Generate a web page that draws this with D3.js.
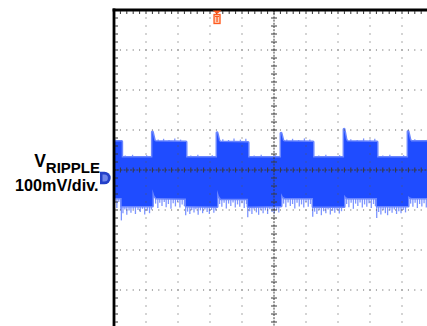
<!DOCTYPE html>
<html>
<head>
<meta charset="utf-8">
<script src="https://cdn.jsdelivr.net/npm/d3@7"></script>
<style>
  html, body { margin: 0; padding: 0; background: #fff; overflow: hidden; }
  svg { display: block; }
</style>
</head>
<body>
<svg id="scope" width="427" height="326"></svg>
<script>
// Ripple capture, 100 mV/div. Time is in screen divisions (0 = centre graticule).

// Solid core of the trace: upper and lower limits [t (div), mV], left to right.
const coreTop = [
  [-5, 71], [-4.76, 71], [-4.76, 31],
  [-3.80, 31], [-3.80, 95], [-3.74, 74], [-3.70, 71], [-2.75, 70], [-2.75, 31],
  [-1.78, 31], [-1.78, 93], [-1.72, 73], [-1.68, 70], [-0.81, 69], [-0.81, 31],
  [0.22, 31], [0.22, 92], [0.28, 73], [0.32, 71], [1.22, 70], [1.22, 31],
  [2.19, 31], [2.19, 102], [2.25, 76], [2.29, 71], [3.22, 70], [3.22, 31],
  [4.19, 31], [4.19, 96], [4.25, 75], [4.29, 71], [5, 71]
];
const coreBottom = [
  [-5, -70], [-4.76, -70], [-4.76, -90],
  [-3.80, -90], [-3.80, -48], [-3.74, -64], [-3.68, -70], [-2.75, -71], [-2.75, -90],
  [-1.78, -91], [-1.78, -50], [-1.72, -65], [-1.66, -72], [-0.81, -72], [-0.81, -91],
  [0.22, -90], [0.22, -58], [0.28, -67], [0.34, -70], [1.22, -70], [1.22, -91],
  [2.19, -91], [2.19, -62], [2.25, -68], [2.31, -70], [3.22, -70], [3.22, -90],
  [4.19, -90], [4.19, -65], [4.25, -69], [4.31, -70], [5, -70]
];

// Noise excursions outside the core [t (div), mV].
const spikesTop = [
  [-4.95, 76], [-4.85, 74],
  [-4.65, 36], [-4.42, 38], [-4.20, 35], [-3.98, 37],
  [-3.62, 76], [-3.45, 78], [-3.28, 75], [-3.10, 79], [-2.92, 76],
  [-2.60, 36], [-2.38, 38], [-2.15, 35], [-1.93, 37],
  [-1.60, 77], [-1.42, 75], [-1.25, 79], [-1.05, 76], [-0.88, 78],
  [-0.62, 36], [-0.40, 38], [-0.18, 35], [0.05, 37],
  [0.40, 76], [0.58, 78], [0.77, 75], [0.95, 79], [1.12, 76],
  [1.40, 36], [1.62, 38], [1.85, 35], [2.05, 37],
  [2.40, 77], [2.60, 75], [2.80, 79], [3.00, 76], [3.15, 78],
  [3.40, 36], [3.62, 38], [3.85, 35], [4.05, 37],
  [4.40, 77], [4.60, 75], [4.80, 78]
];
const spikesBottom = [
  [-4.97, -82], [-4.91, -95], [-4.85, -80], [-4.79, -100], [-4.77, -126],
  [-4.72, -108], [-4.66, -99], [-4.60, -112], [-4.53, -101], [-4.47, -107], [-4.40, -98], [-4.33, -110],
  [-4.25, -100], [-4.18, -105], [-4.11, -97], [-4.04, -111], [-3.96, -102], [-3.89, -108], [-3.83, -99],
  [-3.70, -84], [-3.63, -95], [-3.57, -82], [-3.50, -90], [-3.43, -80], [-3.37, -93], [-3.30, -85],
  [-3.22, -97], [-3.15, -83], [-3.08, -91], [-3.01, -80], [-2.94, -94], [-2.87, -86], [-2.80, -90], [-2.76, -113],
  [-2.70, -104], [-2.63, -110], [-2.57, -100], [-2.50, -106], [-2.44, -98], [-2.37, -112], [-2.30, -101],
  [-2.23, -108], [-2.16, -99], [-2.09, -105], [-2.02, -110], [-1.95, -100], [-1.88, -107], [-1.82, -101],
  [-1.70, -85], [-1.63, -92], [-1.56, -82], [-1.49, -96], [-1.42, -84], [-1.35, -90], [-1.28, -81],
  [-1.21, -94], [-1.14, -86], [-1.07, -92], [-1.00, -83], [-0.93, -95], [-0.86, -85], [-0.82, -118],
  [-0.76, -103], [-0.69, -110], [-0.62, -99], [-0.55, -106], [-0.48, -112], [-0.41, -100], [-0.34, -108],
  [-0.27, -101], [-0.20, -110], [-0.13, -98], [-0.06, -105], [0.01, -109], [0.08, -100], [0.15, -106],
  [0.30, -84], [0.37, -93], [0.44, -81], [0.51, -90], [0.58, -85], [0.65, -96], [0.72, -82],
  [0.79, -91], [0.86, -86], [0.93, -94], [1.00, -80], [1.07, -92], [1.14, -85], [1.21, -117],
  [1.27, -104], [1.34, -110], [1.41, -100], [1.48, -113], [1.55, -103], [1.62, -108], [1.69, -99],
  [1.76, -111], [1.83, -102], [1.90, -107], [1.97, -100], [2.04, -109], [2.11, -103],
  [2.27, -85], [2.34, -93], [2.41, -82], [2.48, -97], [2.55, -84], [2.62, -90], [2.69, -81],
  [2.76, -94], [2.83, -86], [2.90, -92], [2.97, -83], [3.04, -95], [3.11, -85], [3.17, -90], [3.21, -120],
  [3.27, -105], [3.34, -111], [3.41, -100], [3.48, -108], [3.55, -113], [3.62, -101], [3.69, -107],
  [3.76, -99], [3.83, -110], [3.90, -103], [3.97, -108], [4.04, -100], [4.11, -106],
  [4.27, -84], [4.34, -92], [4.41, -82], [4.48, -95], [4.55, -85], [4.62, -91], [4.69, -83], [4.76, -94]
];

// Channel and trigger markers.
const channelOffsetMv = -20;
const triggerTime = -1.78;
const labelMain = "V";
const labelSub = "RIPPLE";
const labelScale = "100mV/div.";

const svg = d3.select("#scope");

// Graticule: 10 horizontal x 8 vertical divisions.
const x = d3.scaleLinear().domain([-5, 5]).range([114, 434]);
const y = d3.scaleLinear().domain([-400, 400]).range([330, 10]);
const majorT = x.ticks(10);                      // -5 .. 5
const majorV = y.ticks(8);                       // -400 .. 400
const minorT = d3.range(-5, 5.001, 0.2);
const minorV = d3.range(-400, 400.001, 20);

const screen = svg.append("g");
screen.append("clipPath").attr("id", "screenClip")
  .append("rect").attr("x", 114).attr("y", 10).attr("width", 320).attr("height", 320);

const trace = screen.append("g").attr("clip-path", "url(#screenClip)");

// Light noise excursions (drawn under the core so only their tips show).
trace.append("g").selectAll("line")
  .data(spikesTop.concat(spikesBottom))
  .join("line")
  .attr("x1", d => x(d[0])).attr("x2", d => x(d[0]))
  .attr("y1", y(0)).attr("y2", d => y(d[1]))
  .attr("stroke", "#7d95ff").attr("stroke-width", 1.3);

const line = d3.line().x(d => x(d[0])).y(d => y(d[1]));
const corePath = line(coreTop.concat(coreBottom.slice().reverse())) + "Z";

// Soft fringe around the solid band.
trace.append("path").attr("d", corePath)
  .attr("fill", "#6a86ff").attr("stroke", "#6a86ff").attr("stroke-width", 3)
  .attr("stroke-linejoin", "round");
// Solid band.
trace.append("path").attr("d", corePath).attr("fill", "#1f4cff");

// Dotted major graticule lines.
const dots = screen.append("g").attr("fill", "#555");
majorV.filter(v => v !== 0 && Math.abs(v) < 400).forEach(v => {
  dots.selectAll(null).data(minorT.filter(t => t > -4.9 && t < 5)).join("rect")
    .attr("x", t => x(t) - 0.5).attr("y", y(v) - 0.5).attr("width", 1).attr("height", 1);
});
majorT.filter(t => t !== 0 && Math.abs(t) < 5).forEach(t => {
  dots.selectAll(null).data(minorV.filter(v => v < 390 && v > -400)).join("rect")
    .attr("x", x(t) - 0.5).attr("y", v => y(v) - 0.5).attr("width", 1).attr("height", 1);
});

// Centre cross-hair with minor ticks.
const axes = screen.append("g").attr("stroke", "#3a3a3a").attr("stroke-width", 1);
axes.append("line").attr("x1", x(-5)).attr("x2", 427).attr("y1", y(0)).attr("y2", y(0))
  .attr("stroke-dasharray", "2,1.2");
axes.append("line").attr("x1", x(0)).attr("x2", x(0)).attr("y1", y(400)).attr("y2", 326)
  .attr("stroke-dasharray", "2,1.2");
axes.selectAll(null).data(minorT.filter(t => t > -4.9)).join("line")
  .attr("x1", t => x(t)).attr("x2", t => x(t))
  .attr("y1", y(0) - 2.5).attr("y2", y(0) + 2.5);
axes.selectAll(null).data(minorV.filter(v => v < 390)).join("line")
  .attr("x1", x(0) - 3).attr("x2", x(0) + 3)
  .attr("y1", v => y(v)).attr("y2", v => y(v));

// Ticks along the frame.
const frameTicks = screen.append("g").attr("stroke", "#333").attr("stroke-width", 1);
frameTicks.selectAll(null).data(minorT.filter(t => t > -4.9)).join("line")
  .attr("x1", t => x(t)).attr("x2", t => x(t))
  .attr("y1", y(400) + 1.2).attr("y2", y(400) + 4);
frameTicks.selectAll(null).data(minorV.filter(v => v < 390)).join("line")
  .attr("x1", x(-5) + 1.2).attr("x2", x(-5) + 4)
  .attr("y1", v => y(v)).attr("y2", v => y(v));

// Frame.
screen.append("line").attr("x1", x(-5) - 1.4).attr("x2", 427).attr("y1", y(400)).attr("y2", y(400))
  .attr("stroke", "#000").attr("stroke-width", 2.8);
screen.append("line").attr("x1", x(-5)).attr("x2", x(-5)).attr("y1", y(400) - 1.4).attr("y2", 326)
  .attr("stroke", "#000").attr("stroke-width", 2.8);

// Trigger position marker.
const tx = x(triggerTime);
const trig = svg.append("g").attr("fill", "#ff5a1e").attr("stroke", "none");
trig.append("path").attr("d", `M${tx - 4.4},${y(400) + 0.5}L${tx + 4.4},${y(400) + 0.5}L${tx},${y(400) + 4}Z`);
trig.append("rect").attr("x", tx - 3).attr("y", y(400) + 4.5).attr("width", 6).attr("height", 9)
  .attr("fill", "#ffd2bd").attr("stroke", "#ff5a1e").attr("stroke-width", 1.3);
trig.append("path").attr("d", `M${tx - 2},${y(400) + 6.5}H${tx + 2}M${tx},${y(400) + 6.5}V${y(400) + 12}`)
  .attr("stroke", "#ff5a1e").attr("stroke-width", 1.2).attr("fill", "none");

// Channel ground marker.
const cy = y(channelOffsetMv);
svg.append("path")
  .attr("d", `M100,${cy - 6.3}H104.4A6.3,6.3 0 0 1 104.4,${cy + 6.3}H100Z`)
  .attr("fill", "#2340c8");
svg.append("path")
  .attr("d", `M102.5,${cy - 3.5}H104.4A3.5,3.5 0 0 1 104.4,${cy + 3.5}H102.5Z`)
  .attr("fill", "#6f85ea");

// Channel label: name with subscript, then the vertical scale on the next line.
const font = "'Liberation Sans', Arial, sans-serif";
const nameLabel = svg.append("text")
  .attr("x", 100).attr("y", 167)
  .attr("text-anchor", "end")
  .style("font-family", font).style("font-weight", "bold")
  .attr("fill", "#000");
nameLabel.append("tspan").style("font-size", "17.5px").text(labelMain);
nameLabel.append("tspan").style("font-size", "15px").attr("dy", 5.5).text(labelSub);

svg.append("text")
  .attr("x", 98.5).attr("y", 191)
  .attr("text-anchor", "end")
  .style("font-family", font).style("font-weight", "bold")
  .style("font-size", "16.2px")
  .attr("fill", "#000")
  .text(labelScale);
</script>
</body>
</html>
